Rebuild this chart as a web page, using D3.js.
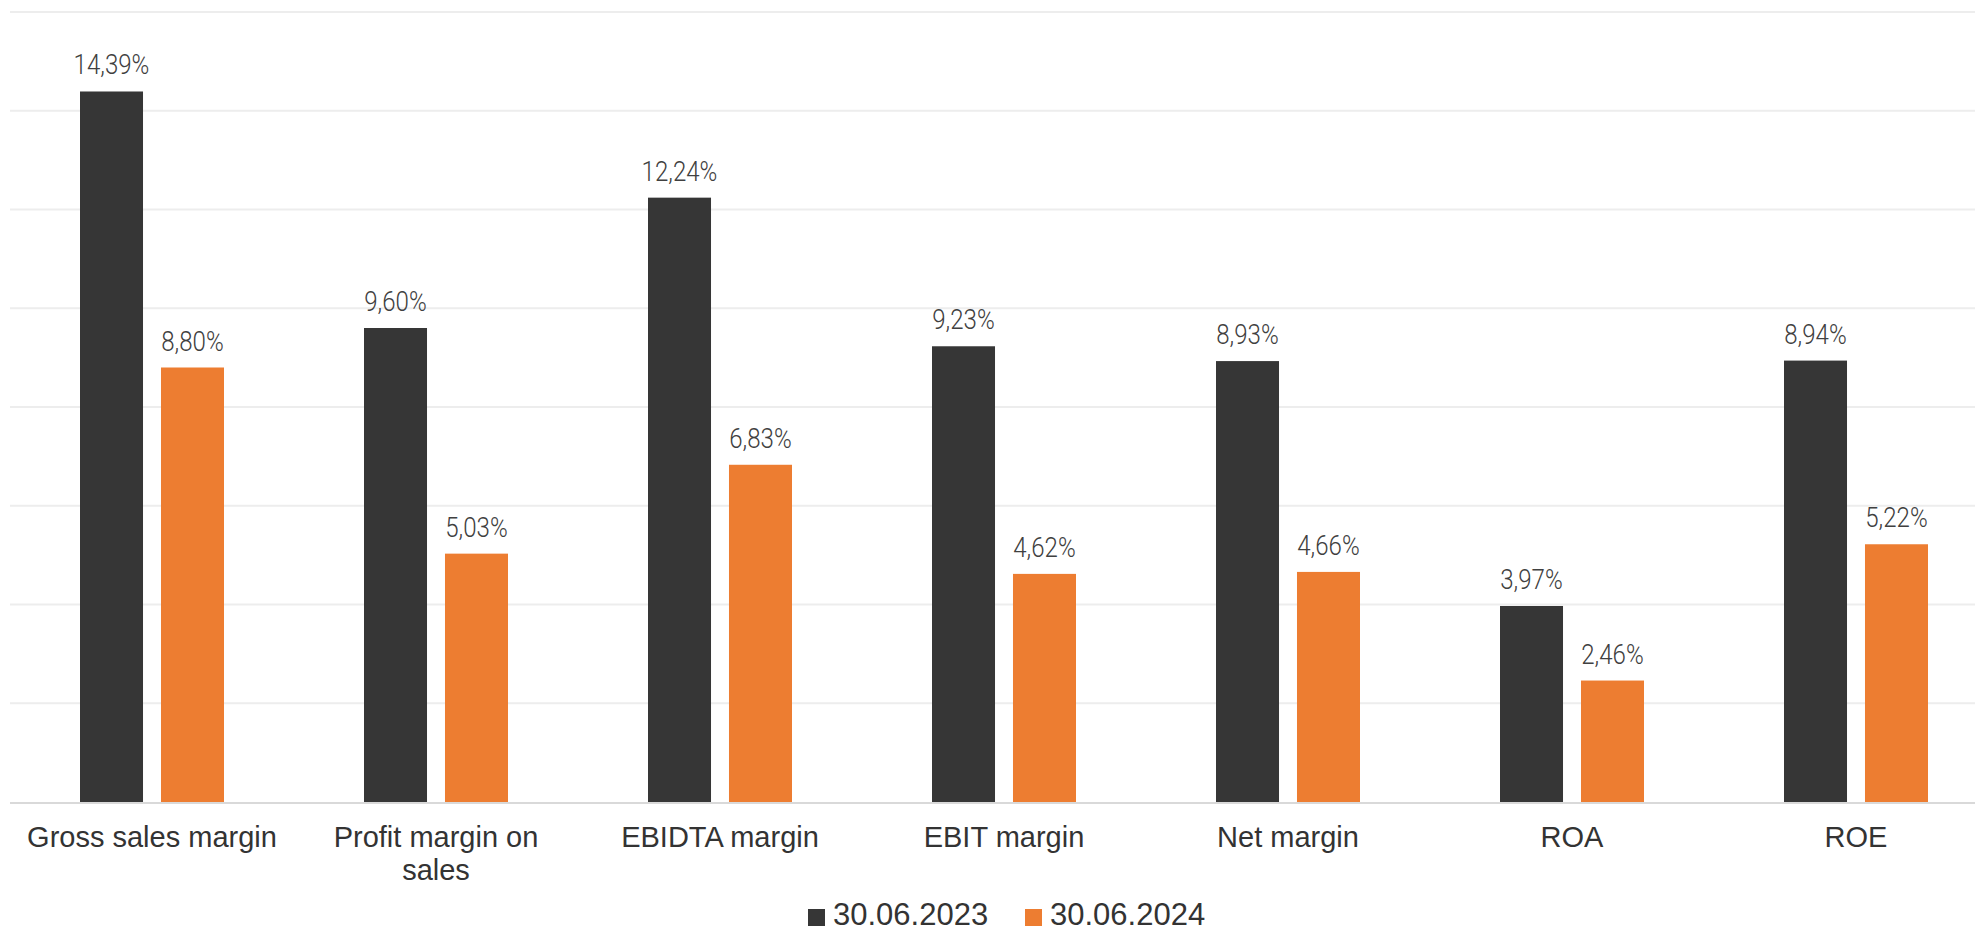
<!DOCTYPE html>
<html>
<head>
<meta charset="utf-8">
<script src="https://cdn.jsdelivr.net/npm/d3@7"></script>
<style>
  html, body { margin: 0; padding: 0; background: #ffffff; }
  svg { display: block; }
</style>
</head>
<body>
<svg id="chart" width="1975" height="931"></svg>
<script>
// ---- data ----
const categories = ["Gross sales margin", "Profit margin on sales", "EBIDTA margin", "EBIT margin", "Net margin", "ROA", "ROE"];
const seriesNames = ["30.06.2023", "30.06.2024"];
const values2023 = [14.39, 9.60, 12.24, 9.23, 8.93, 3.97, 8.94];
const values2024 = [8.80, 5.03, 6.83, 4.62, 4.66, 2.46, 5.22];
const yTicks = [0, 2, 4, 6, 8, 10, 12, 14, 16];
const seriesColors = ["#363636", "#ED7D31"];

const seriesValues = [values2023, values2024];
const svg = d3.select("#chart");

const x0 = d3.scaleBand().domain(categories).range([10, 1998]).paddingInner(0).paddingOuter(0);
const bw = x0.bandwidth();
const x1 = d3.scaleBand().domain(seriesNames).range([bw / 2 - 72, bw / 2 + 72]).paddingInner(0.222).paddingOuter(0);
const y = d3.scaleLinear().domain([0, 16]).range([802, 12]);

// gridlines
svg.append("g").selectAll("line").data(yTicks.filter(d => d > 0)).join("line")
  .attr("x1", 10).attr("x2", 1975)
  .attr("y1", d => y(d)).attr("y2", d => y(d))
  .attr("stroke", "#EDEDED").attr("stroke-width", 2);

// bars
const rows = categories.map((c, i) => ({ cat: c, vals: seriesNames.map((s, j) => ({ s, j, v: seriesValues[j][i] })) }));
const groups = svg.append("g").selectAll("g").data(rows).join("g")
  .attr("transform", d => `translate(${x0(d.cat)},0)`);

groups.selectAll("rect").data(d => d.vals).join("rect")
  .attr("x", d => x1(d.s))
  .attr("width", x1.bandwidth())
  .attr("y", d => y(d.v))
  .attr("height", d => y(0) - y(d.v))
  .attr("fill", d => seriesColors[d.j]);

const fmt = v => v.toFixed(2).replace(".", ",") + "%";
groups.selectAll("text.val").data(d => d.vals).join("text")
  .attr("class", "val")
  .attr("transform", d => `translate(${x1(d.s) + x1.bandwidth() / 2},${y(d.v) - 17}) scale(0.86,1)`)
  .attr("text-anchor", "middle")
  .attr("font-family", "'Roboto', sans-serif")
  .attr("font-weight", 300)
  .attr("font-size", 28)
  .attr("fill", "#404040")
  .text(d => fmt(d.v));

// baseline
svg.append("line")
  .attr("x1", 10).attr("x2", 1975)
  .attr("y1", y(0) + 1).attr("y2", y(0) + 1)
  .attr("stroke", "#D9D9D9").attr("stroke-width", 2);

// category labels (wrapped)
const labelFont = "'Liberation Sans', Arial, sans-serif";
const labels = svg.append("g").selectAll("text").data(categories).join("text")
  .attr("x", d => x0(d) + bw / 2)
  .attr("y", 847)
  .attr("text-anchor", "middle")
  .attr("font-family", labelFont)
  .attr("font-size", 29)
  .attr("fill", "#333333");

labels.each(function(d) {
  const t = d3.select(this);
  const words = d.split(" ");
  let line = [];
  let tspan = t.append("tspan").attr("x", x0(d) + bw / 2).attr("dy", 0);
  words.forEach(w => {
    line.push(w);
    tspan.text(line.join(" "));
    if (tspan.node().getComputedTextLength() > 265 && line.length > 1) {
      line.pop();
      tspan.text(line.join(" "));
      line = [w];
      tspan = t.append("tspan").attr("x", x0(d) + bw / 2).attr("dy", 33).text(w);
    }
  });
});

// legend
const legendX = [808, 1025];
const legend = svg.append("g").selectAll("g").data(seriesNames).join("g")
  .attr("transform", (d, i) => `translate(${legendX[i]},0)`);
legend.append("rect").attr("x", 0).attr("y", 909).attr("width", 17).attr("height", 17)
  .attr("fill", (d, i) => seriesColors[i]);
legend.append("text").attr("x", 25).attr("y", 925)
  .attr("font-family", labelFont).attr("font-size", 31).attr("fill", "#333333")
  .text(d => d);
</script>
</body>
</html>
